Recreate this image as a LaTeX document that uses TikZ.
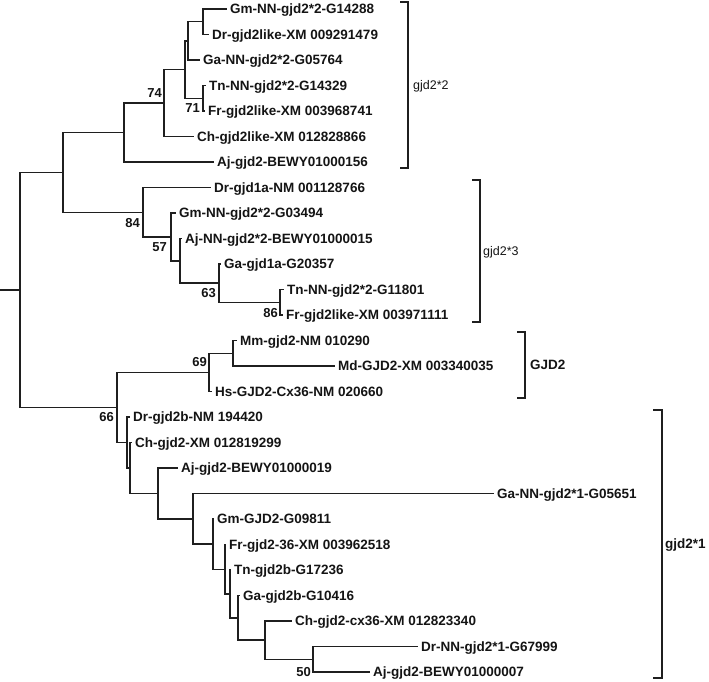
\documentclass[tikz,border=0pt]{standalone}
\usepackage{fontspec}
\setmainfont{Liberation Sans}
\begin{document}
\begin{tikzpicture}[x=1pt,y=-1pt,
  br/.style={line width=1.4pt, draw=black!88},
  bk/.style={line width=1.3pt, draw=black!88},
  leaf/.style={anchor=west, inner xsep=3pt, inner ysep=1pt, text=black!92,
    font=\fontsize{13.5}{15}\selectfont\bfseries, text height=9.6pt, text depth=0pt},
  boot/.style={anchor=east, inner sep=0pt, text=black!92,
    font=\fontsize{13}{15}\selectfont\bfseries, text height=9.4pt, text depth=0pt},
  clade/.style={anchor=west, inner xsep=3pt, inner ysep=1pt, text=black!92,
    font=\fontsize{12.5}{15}\selectfont, text height=9pt, text depth=0pt},
  cladeb/.style={clade, font=\fontsize{13.5}{15}\selectfont\bfseries, text height=9.6pt},
]
\useasboundingbox (0,0) rectangle (709,681);
% internal nodes
\coordinate (stub) at (0,289.9);
\coordinate (root) at (20,289.9);
\coordinate (H) at (63,172.4);
\coordinate (F) at (124,132.5);
\coordinate (E) at (164,103);
\coordinate (D) at (185,69.6);
\coordinate (B) at (188,40.9);
\coordinate (A) at (203,21.75);
\coordinate (C) at (203,98.25);
\coordinate (G) at (143,212.2);
\coordinate (I) at (171,236.9);
\coordinate (J) at (180,260.8);
\coordinate (K) at (219,283.1);
\coordinate (L) at (280,302.25);
\coordinate (M) at (117,407.4);
\coordinate (O) at (209,372.4);
\coordinate (P) at (233,353.25);
\coordinate (Q) at (127,442.5);
\coordinate (R) at (130,468);
\coordinate (S) at (158,493.4);
\coordinate (T) at (193,518.8);
\coordinate (U) at (213,544.1);
\coordinate (V) at (225,569.2);
\coordinate (W) at (230,593.9);
\coordinate (X) at (238,617.8);
\coordinate (Y) at (265,640.1);
\coordinate (Z) at (313,659.25);
% leaves
\node[leaf] (n0) at (227,9) {Gm-NN-gjd2*2-G14288};
\node[leaf] (n1) at (209,34.5) {Dr-gjd2like-XM 009291479};
\node[leaf] (n2) at (200,60) {Ga-NN-gjd2*2-G05764};
\node[leaf] (n3) at (206,85.5) {Tn-NN-gjd2*2-G14329};
\node[leaf] (n4) at (205,111) {Fr-gjd2like-XM 003968741};
\node[leaf] (n5) at (194,136.5) {Ch-gjd2like-XM 012828866};
\node[leaf] (n6) at (214,162) {Aj-gjd2-BEWY01000156};
\node[leaf] (n7) at (211,187.5) {Dr-gjd1a-NM 001128766};
\node[leaf] (n8) at (176,213) {Gm-NN-gjd2*2-G03494};
\node[leaf] (n9) at (182,238.5) {Aj-NN-gjd2*2-BEWY01000015};
\node[leaf] (n10) at (221,264) {Ga-gjd1a-G20357};
\node[leaf] (n11) at (284,289.5) {Tn-NN-gjd2*2-G11801};
\node[leaf] (n12) at (283,315) {Fr-gjd2like-XM 003971111};
\node[leaf] (n13) at (237,340.5) {Mm-gjd2-NM 010290};
\node[leaf] (n14) at (335,366) {Md-GJD2-XM 003340035};
\node[leaf] (n15) at (212,391.5) {Hs-GJD2-Cx36-NM 020660};
\node[leaf] (n16) at (130,417) {Dr-gjd2b-NM 194420};
\node[leaf] (n17) at (132,442.5) {Ch-gjd2-XM 012819299};
\node[leaf] (n18) at (178,468) {Aj-gjd2-BEWY01000019};
\node[leaf] (n19) at (494,493.5) {Ga-NN-gjd2*1-G05651};
\node[leaf] (n20) at (214,519) {Gm-GJD2-G09811};
\node[leaf] (n21) at (226,544.5) {Fr-gjd2-36-XM 003962518};
\node[leaf] (n22) at (231,570) {Tn-gjd2b-G17236};
\node[leaf] (n23) at (240,595.5) {Ga-gjd2b-G10416};
\node[leaf] (n24) at (292,621) {Ch-gjd2-cx36-XM 012823340};
\node[leaf] (n25) at (418,646.5) {Dr-NN-gjd2*1-G67999};
\node[leaf] (n26) at (370,672) {Aj-gjd2-BEWY01000007};
% branches
\draw[br] (stub) -- (root);
\draw[br] (root) |- (H); \draw[br] (root) |- (M);
\draw[br] (H) |- (F); \draw[br] (H) |- (G);
\draw[br] (F) |- (E); \draw[br] (F) |- (n6);
\draw[br] (E) |- (D); \draw[br] (E) |- (n5);
\draw[br] (D) |- (B); \draw[br] (D) |- (C);
\draw[br] (B) |- (A); \draw[br] (B) |- (n2);
\draw[br] (A) |- (n0); \draw[br] (A) |- (n1);
\draw[br] (C) |- (n3); \draw[br] (C) |- (n4);
\draw[br] (G) |- (n7); \draw[br] (G) |- (I);
\draw[br] (I) |- (n8); \draw[br] (I) |- (J);
\draw[br] (J) |- (n9); \draw[br] (J) |- (K);
\draw[br] (K) |- (n10); \draw[br] (K) |- (L);
\draw[br] (L) |- (n11); \draw[br] (L) |- (n12);
\draw[br] (M) |- (O); \draw[br] (M) |- (Q);
\draw[br] (O) |- (P); \draw[br] (O) |- (n15);
\draw[br] (P) |- (n13); \draw[br] (P) |- (n14);
\draw[br] (Q) |- (n16); \draw[br] (Q) |- (R);
\draw[br] (R) |- (n17); \draw[br] (R) |- (S);
\draw[br] (S) |- (n18); \draw[br] (S) |- (T);
\draw[br] (T) |- (n19); \draw[br] (T) |- (U);
\draw[br] (U) |- (n20); \draw[br] (U) |- (V);
\draw[br] (V) |- (n21); \draw[br] (V) |- (W);
\draw[br] (W) |- (n22); \draw[br] (W) |- (X);
\draw[br] (X) |- (n23); \draw[br] (X) |- (Y);
\draw[br] (Y) |- (n24); \draw[br] (Y) |- (Z);
\draw[br] (Z) |- (n25); \draw[br] (Z) |- (n26);
% bootstrap values
\node[boot] (b74) at (162,93) {74};
\node[boot] (b71) at (200,108) {71};
\node[boot] (b84) at (140,223) {84};
\node[boot] (b57) at (167,247) {57};
\node[boot] (b63) at (216,293) {63};
\node[boot] (b86) at (278,313) {86};
\node[boot] (b69) at (207,362) {69};
\node[boot] (b66) at (114,417) {66};
\node[boot] (b50) at (311,672) {50};
% clade brackets
\coordinate (k1a) at (400,2); \coordinate (k1b) at (408,2);
\coordinate (k1c) at (408,168); \coordinate (k1d) at (400,168);
\draw[bk] (k1a) -- (k1b) -- (k1c) -- (k1d);
\node[clade] (c1) at (410,85) {gjd2*2};
\coordinate (k2a) at (472,180); \coordinate (k2b) at (480,180);
\coordinate (k2c) at (480,322); \coordinate (k2d) at (472,322);
\draw[bk] (k2a) -- (k2b) -- (k2c) -- (k2d);
\node[clade] (c2) at (480,251) {gjd2*3};
\coordinate (k3a) at (517,332); \coordinate (k3b) at (525,332);
\coordinate (k3c) at (525,398); \coordinate (k3d) at (517,398);
\draw[bk] (k3a) -- (k3b) -- (k3c) -- (k3d);
\node[cladeb] (c3) at (527,365) {GJD2};
\coordinate (k4a) at (653,410); \coordinate (k4b) at (662,410);
\coordinate (k4c) at (662,678); \coordinate (k4d) at (653,678);
\draw[bk] (k4a) -- (k4b) -- (k4c) -- (k4d);
\node[cladeb] (c4) at (662,544) {gjd2*1};
\end{tikzpicture}
\end{document}
